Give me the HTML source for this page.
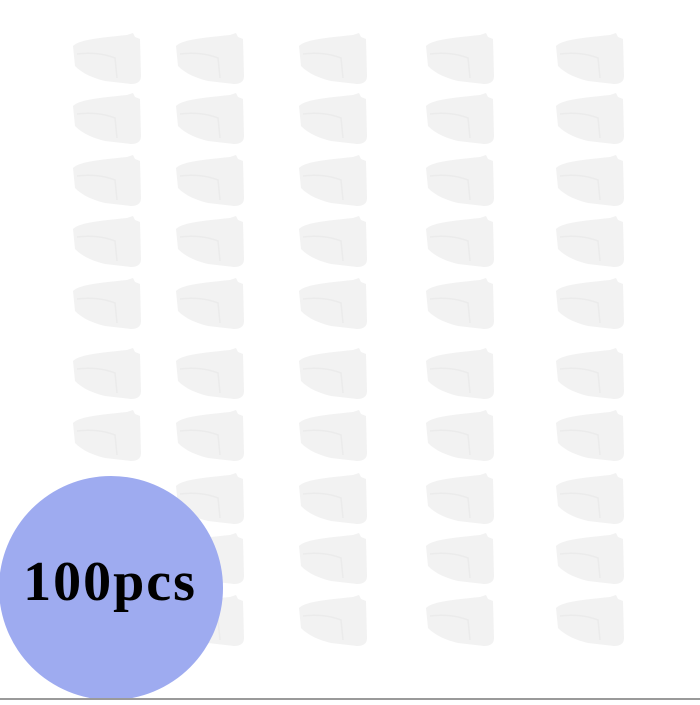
<!DOCTYPE html>
<html><head><style>html,body{margin:0;padding:0;background:#fff}</style></head>
<body>
<svg width="700" height="700" viewBox="0 0 700 700" xmlns="http://www.w3.org/2000/svg">
<defs>
<g id="p">
<path d="M-34,-14 C-28,-20 -10,-22 20,-25 L26,-27 L28,-23 L33,-21 L34,16 C34,22 30,24 24,24 L-2,21 C-14,18 -24,14 -32,6 Z" fill="#f2f2f2"/>
<path d="M-30,-6 C-16,-8 -2,-6 8,-2 L10,18" fill="none" stroke="#ebebeb" stroke-width="1.5"/>
</g>
</defs>
<rect width="700" height="700" fill="#fff"/>
<g id="grid">
<use href="#p" x="107" y="60"/><use href="#p" x="210" y="60"/><use href="#p" x="333" y="60"/><use href="#p" x="460" y="60"/><use href="#p" x="590" y="60"/>
<use href="#p" x="107" y="120"/><use href="#p" x="210" y="120"/><use href="#p" x="333" y="120"/><use href="#p" x="460" y="120"/><use href="#p" x="590" y="120"/>
<use href="#p" x="107" y="182"/><use href="#p" x="210" y="182"/><use href="#p" x="333" y="182"/><use href="#p" x="460" y="182"/><use href="#p" x="590" y="182"/>
<use href="#p" x="107" y="243"/><use href="#p" x="210" y="243"/><use href="#p" x="333" y="243"/><use href="#p" x="460" y="243"/><use href="#p" x="590" y="243"/>
<use href="#p" x="107" y="305"/><use href="#p" x="210" y="305"/><use href="#p" x="333" y="305"/><use href="#p" x="460" y="305"/><use href="#p" x="590" y="305"/>
<use href="#p" x="107" y="375"/><use href="#p" x="210" y="375"/><use href="#p" x="333" y="375"/><use href="#p" x="460" y="375"/><use href="#p" x="590" y="375"/>
<use href="#p" x="107" y="437"/><use href="#p" x="210" y="437"/><use href="#p" x="333" y="437"/><use href="#p" x="460" y="437"/><use href="#p" x="590" y="437"/>
<use href="#p" x="210" y="500"/><use href="#p" x="333" y="500"/><use href="#p" x="460" y="500"/><use href="#p" x="590" y="500"/>
<use href="#p" x="210" y="560"/><use href="#p" x="333" y="560"/><use href="#p" x="460" y="560"/><use href="#p" x="590" y="560"/>
<use href="#p" x="210" y="622"/><use href="#p" x="333" y="622"/><use href="#p" x="460" y="622"/><use href="#p" x="590" y="622"/>
</g>
<circle cx="111" cy="588" r="112" fill="#9eabf0"/>
<text x="110" y="600" text-anchor="middle" font-family="Liberation Serif, serif" font-weight="bold" font-size="56" letter-spacing="2" fill="#000">100pcs</text>
<rect x="0" y="698" width="700" height="2" fill="#9a9a9a"/>
</svg>
</body></html>
